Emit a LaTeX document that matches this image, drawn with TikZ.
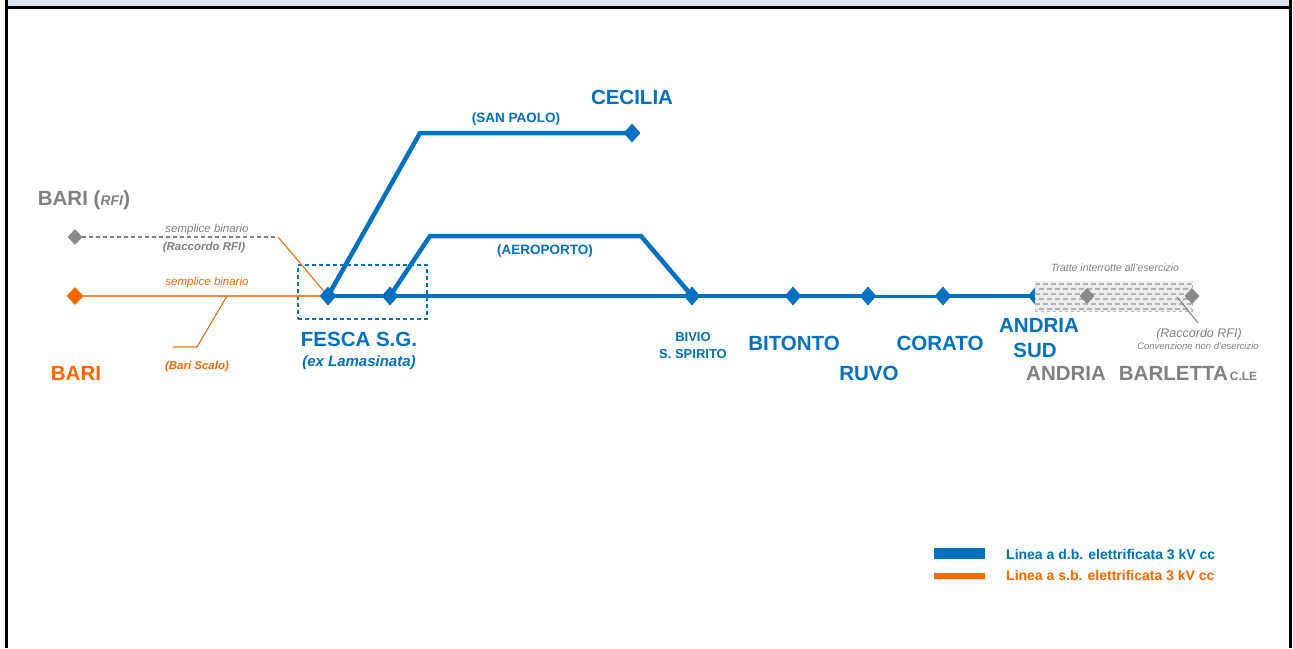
\documentclass[tikz,border=0pt]{standalone}
\usepackage{fontspec}
\setmainfont{Liberation Sans}
\usetikzlibrary{shapes.geometric}
\definecolor{blu}{HTML}{0070C0}
\definecolor{orng}{HTML}{FF6600}
\definecolor{orline}{HTML}{F7873A}
\definecolor{orlead}{HTML}{E8700F}
\definecolor{gry}{HTML}{808080}
\definecolor{gdia}{HTML}{8A8A8A}
\definecolor{band}{HTML}{D9E5F4}
\newcommand{\fs}[1]{\fontsize{#1}{#1}\selectfont}
\tikzset{
  big/.style={font=\bfseries\fs{20.5}, anchor=base, inner sep=0},
  bigb/.style={big, text=blu},
  mid/.style={font=\bfseries\fs{13.5}, text=blu, anchor=base, inner sep=0},
  small/.style={font=\itshape\fs{11.5}, anchor=base, inner sep=0},
  smallb/.style={font=\bfseries\itshape\fs{11.5}, anchor=base, inner sep=0},
  dia/.style={shape=diamond, fill=blu, inner sep=0, minimum width=17pt, minimum height=19pt},
  odia/.style={shape=diamond, fill=orng, inner sep=0, minimum width=17pt, minimum height=18pt},
  gdiam/.style={shape=diamond, fill=gdia, inner sep=0, minimum width=15pt, minimum height=16pt},
  mainline/.style={draw=blu, line width=4.5pt},
  orangeline/.style={draw=orline, line width=2.5pt},
  leader/.style={draw=orlead, line width=1.1pt},
  gleader/.style={draw=gry, line width=1pt},
}
\begin{document}
\begin{tikzpicture}[x=1pt,y=-1pt]
\useasboundingbox (0,0) rectangle (1293,648);
% frame
\fill[band] (8,0) rectangle (1290,6.5);
\draw[black, line width=2.5pt] (5,7.5) -- (1292,7.5);
\draw[black, line width=3pt] (6.5,0) -- (6.5,648);
\draw[black, line width=2.5pt] (1290.5,0) -- (1290.5,648);

% coordinates
\coordinate (pOB) at (75,296);
\coordinate (pGB) at (75,237);
\coordinate (pF1) at (328,296);
\coordinate (pF2) at (390,296);
\coordinate (pBS) at (692,296);
\coordinate (pBI) at (793,296);
\coordinate (pRU) at (868,296);
\coordinate (pCO) at (943,296);
\coordinate (pAS) at (1036,296);
\coordinate (pCE) at (632,133);
\coordinate (sp1) at (420,133);
\coordinate (ae1) at (430,236);
\coordinate (ae2) at (641,236);
\coordinate (gend) at (278,237);
\coordinate (bs1) at (227,296);
\coordinate (bs2) at (197,347);
\coordinate (bs3) at (173,347);

% dashed box around Fesca
\node[draw=blu, dashed, dash pattern=on 4pt off 3pt, line width=1.1pt, minimum width=129pt, minimum height=54pt, inner sep=0] (fbox) at (362.5,292) {};

% lines
\draw[orangeline] (pOB) -- (pF1);
\draw[gry, line width=1.2pt, dash pattern=on 4pt off 3pt] (pGB) -- (gend);
\draw[leader] (gend) -- (pF1);
\draw[leader] (bs1) -- (bs2) -- (bs3);
\draw[mainline] (pF1) -- (pF2) -- (pBS) -- (pBI) -- (pRU);
\draw[draw=blu, line width=3pt] (pRU) -- (pCO);
\draw[mainline] (pCO) -- (pAS);
\draw[mainline, line join=miter] (pF1) -- (sp1) -- (pCE);
\draw[mainline, line join=miter] (pF2) -- (ae1) -- (ae2) -- (pBS);

% diamonds
\node[odia] (OB) at (pOB) {};
\node[gdiam] (GB) at (pGB) {};
\node[dia] (F1) at (pF1) {};
\node[dia] (F2) at (pF2) {};
\node[dia] (BS) at (pBS) {};
\node[dia] (BI) at (pBI) {};
\node[dia] (RU) at (pRU) {};
\node[dia] (CO) at (pCO) {};
\node[dia] (AS) at (pAS) {};
\node[dia] (CE) at (pCE) {};

% interrupted section
\node[fill=white, draw=gray!55, dashed, line width=0.8pt, minimum width=157pt, minimum height=30pt, inner sep=0] (interr) at (1113.5,296) {};
\begin{scope}
\clip (1035.5,281.5) rectangle (1191.5,310.5);
\fill[gray!14] (1035,281) rectangle (1192,311);
\foreach \yy [count=\i] in {284,289,294,299,304,309}{
  \ifodd\i
    \draw[gray!60, line width=1.2pt, dash pattern=on 5pt off 3pt] (1035,\yy) -- (1192,\yy);
  \else
    \draw[gray!60, line width=1.2pt, dash pattern=on 5pt off 3pt, dash phase=4pt] (1035,\yy) -- (1192,\yy);
  \fi
}
\end{scope}
\node[gdiam] (G1) at (1087,296) {};
\node[gdiam] (G2) at (1192,296) {};
\coordinate (gl1) at (1177,297);
\coordinate (gl2) at (1198,323);
\draw[gleader] (gl1) -- (gl2);

% labels
\node[bigb] (tCE) at (632,104) {CECILIA};
\node[mid] (tSP) at (516,122) {(SAN PAOLO)};
\node[mid] (tAE) at (545,254.5) {(AEROPORTO)};
\node[big, text=gry] (tBR) at (84,205) {BARI (\textit{\fs{14}RFI})};
\node[small, text=gry] (tsb1) at (207,232.5) {semplice binario};
\node[smallb, text=gry] (tRR) at (204,250) {(Raccordo RFI)};
\node[small, text=orng] (tsb2) at (207,285.5) {semplice binario};
\node[smallb, text=orng] (tBSc) at (197,369) {(Bari Scalo)};
\node[big, text=orng] (tBA) at (76,380) {BARI};
\node[bigb] (tFE) at (359,346) {FESCA S.G.};
\node[font=\bfseries\itshape\fs{15}, text=blu, anchor=base, inner sep=0] (tLA) at (359,366) {(ex Lamasinata)};
\node[mid, font=\bfseries\fs{13}] (tBV) at (693,341) {BIVIO};
\node[mid, font=\bfseries\fs{13}] (tSS) at (693,358) {S. SPIRITO};
\node[bigb] (tBI) at (794,350) {BITONTO};
\node[bigb] (tCO) at (940,350) {CORATO};
\node[bigb] (tRU) at (869,380) {RUVO};
\node[bigb] (tAN) at (1039,332) {ANDRIA};
\node[bigb] (tSU) at (1035,357) {SUD};
\node[big, text=gry, anchor=base west] (tAB) at (1026,380) {ANDRIA\hspace{13pt}BARLETTA\hspace{2pt}{\fs{12}C.LE}};
\node[font=\itshape\fs{10.5}, text=gry, anchor=base, inner sep=0] (tTI) at (1115,271.5) {Tratte interrotte all’esercizio};
\node[font=\itshape\fs{12.5}, text=gry, anchor=base, inner sep=0] (tRR2) at (1199,337.5) {(Raccordo RFI)};
\node[font=\itshape\fs{9.5}, text=gry, anchor=base, inner sep=0] (tCN) at (1198,349.5) {Convenzione non d’esercizio};

% legend
\node[fill=blu, minimum width=51pt, minimum height=11pt, inner sep=0] (legB) at (959.5,553.5) {};
\node[fill=orng, minimum width=51pt, minimum height=6pt, inner sep=0] (legO) at (959.5,576) {};
\node[font=\bfseries\fs{14}, text=blu, anchor=base west, inner sep=0] (tlB) at (1006,559) {Linea a d.b. elettrificata 3 kV cc};
\node[font=\bfseries\fs{14}, text=orng, anchor=base west, inner sep=0] (tlO) at (1006,580) {Linea a s.b. elettrificata 3 kV cc};
\end{tikzpicture}
\end{document}
